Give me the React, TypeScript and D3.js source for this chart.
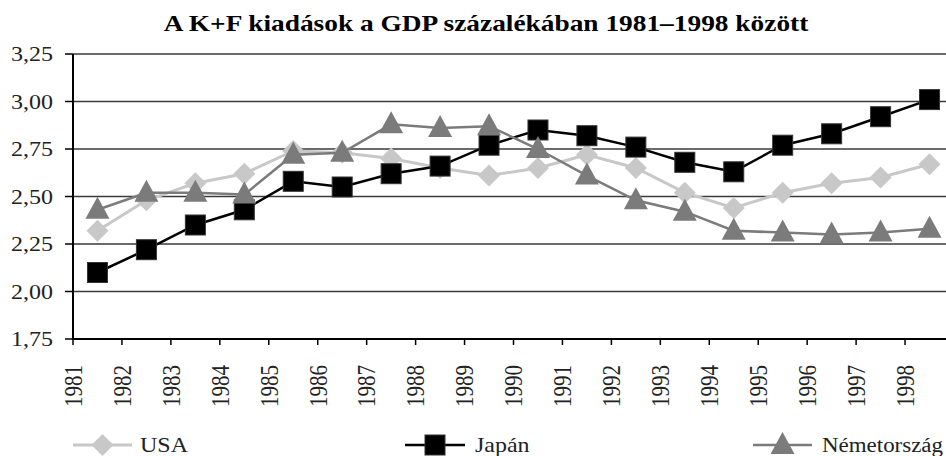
import React from "react";
import * as d3 from "d3";

const years = [
  "1981", "1982", "1983", "1984", "1985", "1986", "1987", "1988", "1989",
  "1990", "1991", "1992", "1993", "1994", "1995", "1996", "1997", "1998",
];

const usa = [
  2.32, 2.48, 2.57, 2.62, 2.74, 2.73, 2.7, 2.65, 2.61,
  2.65, 2.72, 2.65, 2.52, 2.44, 2.52, 2.57, 2.6, 2.67,
];
const japan = [
  2.1, 2.22, 2.35, 2.43, 2.58, 2.55, 2.62, 2.66, 2.77,
  2.85, 2.82, 2.76, 2.68, 2.63, 2.77, 2.83, 2.92, 3.01,
];
const germany = [
  2.43, 2.52, 2.52, 2.51, 2.72, 2.73, 2.88, 2.86, 2.87,
  2.75, 2.61, 2.48, 2.42, 2.32, 2.31, 2.3, 2.31, 2.33,
];

const yTicks = [1.75, 2.0, 2.25, 2.5, 2.75, 3.0, 3.25];

const series = [
  { name: "USA", values: usa, color: "#c8c8c8", width: 3, shape: "diamond" },
  { name: "Japán", values: japan, color: "#000000", width: 2.5, shape: "square" },
  { name: "Németország", values: germany, color: "#7b7b7b", width: 2.5, shape: "triangle" },
];

const W = 946;
const H = 456;
const left = 73;
const plotRight = 954;
const top = 54;
const bottom = 339;
const font = '"Liberation Serif", "Times New Roman", serif';
// the source picture is a bit wider than tall, so text is stretched sideways
const stretch = 1.2;

const Marker = ({ shape, x, y, color }) => {
  if (shape === "square") {
    return <rect x={x - 10} y={y - 10} width={20} height={20} fill={color} stroke="#333" strokeWidth={1} />;
  }
  if (shape === "diamond") {
    return <path d={`M${x},${y - 11}L${x + 11},${y}L${x},${y + 11}L${x - 11},${y}Z`} fill={color} />;
  }
  return <path d={`M${x},${y - 13}L${x + 12},${y + 9}L${x - 12},${y + 9}Z`} fill={color} />;
};

const App = () => {
  const x = d3.scaleBand().domain(years).range([left, plotRight]).padding(0);
  const y = d3.scaleLinear().domain([1.75, 3.25]).range([bottom, top]);
  const cx = (d) => x(d) + x.bandwidth() / 2;

  const line = d3
    .line()
    .x((d) => d[0])
    .y((d) => d[1]);

  const legend = [
    { s: series[0], x1: 73, x2: 132, tx: 140 },
    { s: series[1], x1: 405, x2: 465, tx: 475 },
    { s: series[2], x1: 753, x2: 812, tx: 822 },
  ];

  const txt = { fontFamily: font };

  return (
    <svg
      width={W}
      height={H}
      style={{ position: "absolute", left: 0, top: 0, background: "#fff" }}
    >
      <text
        transform={`translate(486, 31) scale(1.19, 1)`}
        textAnchor="middle"
        fontSize={23}
        fontWeight="bold"
        fill="#000"
        style={txt}
      >
        A K+F kiadások a GDP százalékában 1981–1998 között
      </text>

      {yTicks.map((t) => (
        <g key={t}>
          {t > 1.75 && (
            <line x1={left} x2={W} y1={y(t)} y2={y(t)} stroke="#3a3a3a" strokeWidth={1.5} />
          )}
          <line x1={left - 8} x2={left} y1={y(t)} y2={y(t)} stroke="#000" strokeWidth={1.5} />
          <text
            transform={`translate(53, ${y(t)}) scale(${stretch}, 1)`}
            dy="0.35em"
            textAnchor="end"
            fontSize={20}
            fill="#222"
            style={txt}
          >
            {d3.format(".2f")(t).replace(".", ",")}
          </text>
        </g>
      ))}

      <line x1={left} x2={left} y1={top} y2={bottom} stroke="#000" strokeWidth={2} />
      <line x1={left} x2={W} y1={bottom} y2={bottom} stroke="#000" strokeWidth={2} />

      {years.map((yr) => (
        <g key={yr}>
          <line x1={x(yr)} x2={x(yr)} y1={bottom} y2={bottom + 6} stroke="#000" strokeWidth={1.5} />
          <text
            transform={`translate(${x(yr)}, 407) rotate(-90) scale(1, ${stretch})`}
            dy="0.35em"
            fontSize={21}
            fill="#222"
            style={txt}
          >
            {yr}
          </text>
        </g>
      ))}

      {series.map((s) => (
        <g key={s.name}>
          <path
            d={line(years.map((yr, i) => [cx(yr), y(s.values[i])]))}
            fill="none"
            stroke={s.color}
            strokeWidth={s.width}
          />
          {years.map((yr, i) => (
            <Marker key={yr} shape={s.shape} x={cx(yr)} y={y(s.values[i])} color={s.color} />
          ))}
        </g>
      ))}

      {legend.map((l, i) => (
        <g key={l.s.name}>
          <line x1={l.x1} x2={l.x2} y1={445} y2={445} stroke={l.s.color} strokeWidth={l.s.width} />
          <Marker shape={l.s.shape} x={(l.x1 + l.x2) / 2} y={445} color={l.s.color} />
          {i < 2 ? (
            <text
              transform={`translate(${l.tx}, 452) scale(${stretch}, 1)`}
              fontSize={20}
              fill="#222"
              style={txt}
            >
              {l.s.name}
            </text>
          ) : (
            <text
              x={l.tx}
              y={452}
              textLength={W - 3 - l.tx}
              lengthAdjust="spacingAndGlyphs"
              fontSize={20}
              fill="#222"
              style={txt}
            >
              {l.s.name}
            </text>
          )}
        </g>
      ))}
    </svg>
  );
};

export default App;
